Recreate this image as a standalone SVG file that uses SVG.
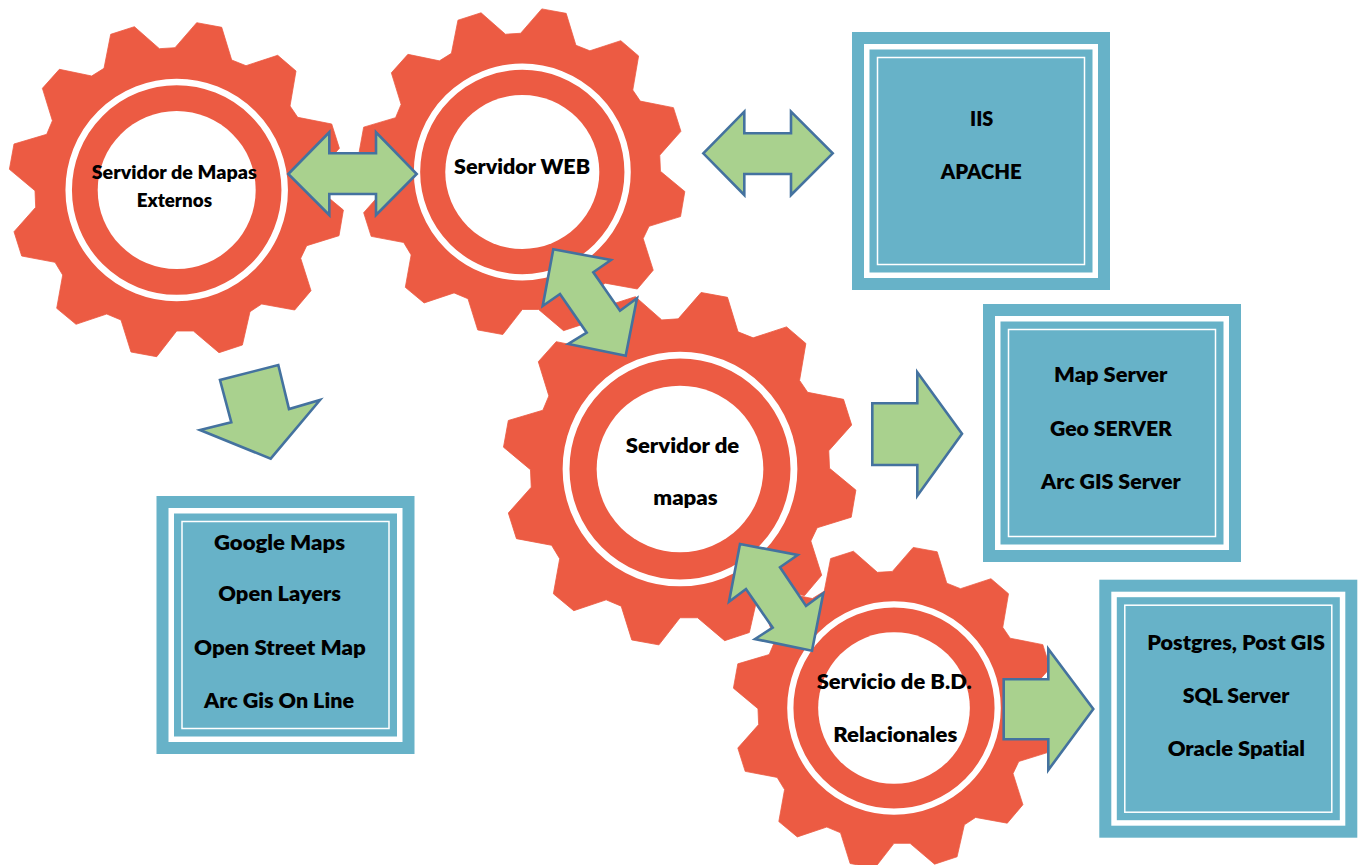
<svg xmlns="http://www.w3.org/2000/svg" width="1361" height="865" viewBox="0 0 1361 865">
<style>
.gear{fill:#EC5B43;stroke:#EC5B43;stroke-width:.8;stroke-linejoin:round}
.ring{fill:none;stroke:#fff;stroke-width:6.5}
.hole{fill:#fff}
.arrow{fill:#A9D18E;stroke:#44729F;stroke-width:2.6;stroke-linejoin:miter}
.t{font-family:"Lato","Liberation Sans",sans-serif;font-weight:800;font-size:21px;fill:#000;font-variant-ligatures:none}
.s{font-size:19px}
.b0{fill:#67B2C8}
.b1{fill:#fff}
.b3{fill:none;stroke:#fff;stroke-width:1.5}
</style>
<defs>
<g id="gearshape">
<path class="gear" d="M-17.3-141.3L-1.7-142.3L20-167.3L45-162.7L55-130L69.3-124.3L101-134.7L119.3-119L113.3-84L121-72.7L155-66L162.7-41.7L141-17.3L141.7-.7L166.7 20L162.3 45.7L130 55.7L124 68.3L134.3 100.7L118 120L85 114L73.3 121.7L65.7 155L42.3 162.7L16.7 141L0 141L-20 166.7L-45.7 162L-55.7 130L-70 124L-100.7 134.3L-120 118.3L-114 85L-121.7 72.3L-155 66L-162.7 41.7L-141 17.3L-141.7 .7L-167.3-20.7L-162.7-46L-130-55.7L-124.3-69.3L-134.3-101.7L-117.3-120.7L-85-114L-72.7-121.7L-66-155.7L-42.3-163.3Z"/>
<circle class="ring" r="108"/>
<circle class="hole" r="79"/>
</g>
<g id="boxshape">
<rect class="b0" width="258" height="258"/>
<rect class="b1" x="12" y="12" width="234" height="234"/>
<rect class="b0" x="17.5" y="17.5" width="223" height="223"/>
<rect class="b3" x="25.5" y="25.5" width="207" height="207"/>
</g>
</defs>

<g id="gear-mapas-externos">
<use href="#gearshape" transform="translate(176.7 190)"/>
</g>
<g id="gear-web">
<use href="#gearshape" transform="translate(522.3 172) scale(.975)"/>
</g>
<g id="gear-mapas">
<use href="#gearshape" transform="translate(680 469) scale(1.055)"/>
</g>
<g id="gear-bd">
<use href="#gearshape" transform="translate(894 708) scale(.96)"/>
</g>

<g id="box-externos">
<use href="#boxshape" transform="translate(156.5 496)"/>
<text class="t" x="214" y="549.5" textLength="131" lengthAdjust="spacingAndGlyphs">Google Maps</text>
<text class="t" x="218.3" y="601.2" textLength="122.7" lengthAdjust="spacingAndGlyphs">Open Layers</text>
<text class="t" x="194" y="655" textLength="171.7" lengthAdjust="spacingAndGlyphs">Open Street Map</text>
<text class="t" x="204" y="708" textLength="150" lengthAdjust="spacingAndGlyphs">Arc Gis On Line</text>
</g>
<g id="box-web">
<use href="#boxshape" transform="translate(852 32)"/>
<text class="t" x="970" y="126" textLength="23.3" lengthAdjust="spacingAndGlyphs">IIS</text>
<text class="t" x="940.7" y="179" textLength="81" lengthAdjust="spacingAndGlyphs">APACHE</text>
</g>
<g id="box-mapas">
<use href="#boxshape" transform="translate(983 304)"/>
<text class="t" x="1054" y="382.3" textLength="113.3" lengthAdjust="spacingAndGlyphs">Map Server</text>
<text class="t" x="1050" y="436" textLength="122" lengthAdjust="spacingAndGlyphs">Geo SERVER</text>
<text class="t" x="1041" y="488.7" textLength="139.7" lengthAdjust="spacingAndGlyphs">Arc GIS Server</text>
</g>
<g id="box-bd">
<use href="#boxshape" transform="translate(1099.3 579.7)"/>
<text class="t" x="1147.3" y="650" textLength="177.7" lengthAdjust="spacingAndGlyphs">Postgres, Post GIS</text>
<text class="t" x="1182.7" y="703" textLength="106.6" lengthAdjust="spacingAndGlyphs">SQL Server</text>
<text class="t" x="1167.7" y="756" textLength="137.3" lengthAdjust="spacingAndGlyphs">Oracle Spatial</text>
</g>

<g id="connectors">
<path class="arrow" d="M288.3 174L329.3 132.3V153.3H376V132.3L416.7 174L376 215V194H329.3V215Z"/>
<path class="arrow" d="M703.3 153.3L744.3 111.7V133.3H791V111.7L832.7 153.3L791 195V174H744.3V195Z"/>
<path class="arrow" d="M553.3 249.3L611 260L593.3 272.3L620 310.7L637 298.3L625.7 355.7L568.3 344L586.7 332.7L560 294L542.7 306Z"/>
<path class="arrow" d="M740 544L797.7 555L780 567.3L806 606L823.3 593.3L812 650.7L755 639L772.7 627.7L746 589L729 601.7Z"/>
<path class="arrow" d="M278.3 365L289 409L320 400L270.7 458.7L200 430L231.3 422.3L220 380Z"/>
<path class="arrow" d="M872.3 403.3H917.3V372.3L962 433.7L917.3 495.7V465H872.3Z"/>
<path class="arrow" d="M1003.7 679.3H1048.3V649L1093.3 709L1048.3 770V739.3H1003.7Z"/>
</g>

<g id="gear-labels">
<text class="t s" x="91.7" y="179" textLength="165" lengthAdjust="spacingAndGlyphs">Servidor de Mapas</text>
<text class="t s" x="136.7" y="207.3" textLength="75.3" lengthAdjust="spacingAndGlyphs">Externos</text>
<text class="t" x="454" y="174" textLength="136" lengthAdjust="spacingAndGlyphs">Servidor WEB</text>
<text class="t" x="625.7" y="453.2" textLength="113.6" lengthAdjust="spacingAndGlyphs">Servidor de</text>
<text class="t" x="653.3" y="505" textLength="64.4" lengthAdjust="spacingAndGlyphs">mapas</text>
<text class="t" x="816.7" y="688.8" textLength="155" lengthAdjust="spacingAndGlyphs">Servicio de B.D.</text>
<text class="t" x="833.3" y="741.7" textLength="124" lengthAdjust="spacingAndGlyphs">Relacionales</text>
</g>
</svg>
